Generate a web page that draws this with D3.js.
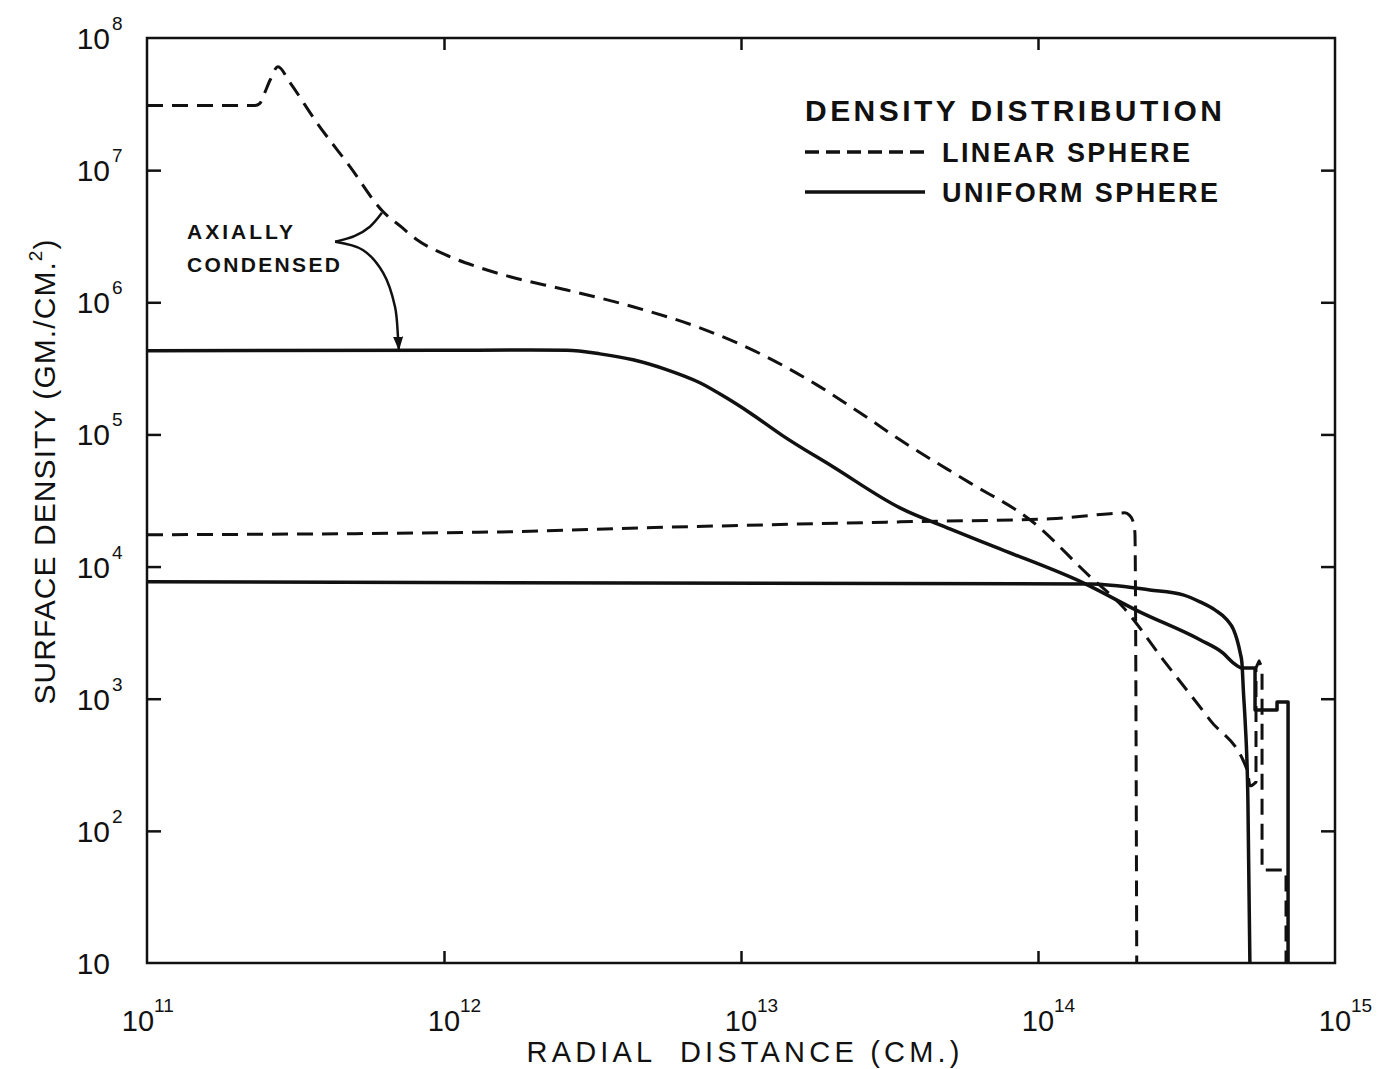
<!DOCTYPE html>
<html>
<head>
<meta charset="utf-8">
<script src="https://cdn.jsdelivr.net/npm/d3@7"></script>
<style>
  body { margin: 0; background: #fff; }
  svg { display: block; }
  text { font-family: "Liberation Sans", Arial, sans-serif; fill: #111; }
</style>
</head>
<body>
<div id="chart"></div>
<script>
// Curves: [radial distance (cm), surface density (g/cm^2)]
const linearCondensed = [
    [1.0e11, 3.08e7], [2.31e11, 3.08e7], [2.40e11, 3.2e7], [2.46e11, 3.6e7],
    [2.60e11, 4.83e7], [2.76e11, 6.07e7], [3.03e11, 4.59e7], [3.73e11, 2.29e7],
    [4.83e11, 1.06e7], [6.24e11, 4.84e6], [7.2e11, 3.7e6], [8.11e11, 2.97e6],
    [1.01e12, 2.29e6], [1.30e12, 1.85e6], [1.67e12, 1.56e6], [2.59e12, 1.24e6],
    [4.33e12, 9.25e5], [7.27e12, 6.41e5], [1.22e13, 3.86e5], [1.80e13, 2.37e5],
    [2.66e13, 1.34e5], [3.43e13, 9.1e4], [5.90e13, 4.30e4], [9.40e13, 2.26e4],
    [1.50e14, 8.36e3], [1.93e14, 4.96e3], [2.64e14, 1.97e3], [3.79e14, 692],
    [5.06e14, 289], [5.18e14, 219], [5.42e14, 234], [5.42e14, 1710],
    [5.55e14, 1930], [5.68e14, 1710], [5.68e14, 50.6], [6.79e14, 50.6],
    [6.84e14, 48], [6.84e14, 10]
];

const uniformCondensed = [
    [1e11, 4.30e5], [1e12, 4.33e5], [1.8e12, 4.36e5], [2.59e12, 4.33e5],
    [3.35e12, 4.07e5], [4.33e12, 3.67e5], [5.64e12, 3.08e5], [7.27e12, 2.46e5],
    [8.9e12, 1.90e5], [1.07e13, 1.46e5], [1.38e13, 9.8e4], [2.04e13, 5.69e4],
    [3.43e13, 2.78e4], [5.05e13, 1.93e4], [7.45e13, 1.36e4], [1.42e14, 7.53e3],
    [2.20e14, 4.54e3], [3.51e14, 2.79e3], [4.19e14, 2.22e3], [4.54e14, 1.87e3],
    [4.86e14, 1.71e3], [5.38e14, 1.71e3], [5.38e14, 822], [6.38e14, 822],
    [6.38e14, 946], [6.95e14, 946], [6.95e14, 10]
];

const linearUniform = [
    [1e11, 1.74e4], [1.55e12, 1.83e4], [4.57e12, 1.96e4], [3.43e13, 2.18e4],
    [1.10e14, 2.30e4], [1.75e14, 2.51e4], [1.96e14, 2.55e4], [2.03e14, 2.45e4],
    [2.09e14, 2.2e4], [2.12e14, 1.80e4], [2.15e14, 10]
];

const uniformUniform = [
    [1e11, 7.66e3], [1.50e14, 7.39e3], [2.38e14, 6.66e3], [3.08e14, 6.11e3],
    [3.51e14, 5.41e3], [3.94e14, 4.70e3], [4.33e14, 3.95e3], [4.55e14, 3.35e3],
    [4.68e14, 2.79e3], [4.80e14, 2.2e3], [4.86e14, 1.87e3], [4.92e14, 1.1e3],
    [4.98e14, 692], [5.09e14, 171], [5.17e14, 10]
];

// "Axially condensed" bracket and arrow, in data coordinates
const bracketUpper = [[4.30e11, 2.87e6], [5.01e11, 3.18e6], [5.63e11, 3.73e6], [6.18e11, 4.75e6]];
const bracketArrow = [[4.30e11, 2.87e6], [5.33e11, 2.49e6], [6.24e11, 1.67e6], [6.84e11, 9.25e5], [7.0e11, 5.48e5], [7.05e11, 4.3e5]];

// Axis ticks (decade exponents)
const xTickExps = [11, 12, 13, 14, 15];
const yTickExps = [1, 2, 3, 4, 5, 6, 7, 8];
const xInnerTicks = [1e12, 1e13, 1e14];
const yInnerTicks = [1e2, 1e3, 1e4, 1e5, 1e6, 1e7];

const legendItems = [
    { label: "LINEAR SPHERE", dashed: true, len: 248 },
    { label: "UNIFORM SPHERE", dashed: false, len: 276 }
];

// Set up the SVG
const width = 1397;
const height = 1069;
const plot = { left: 147, right: 1335, top: 38, bottom: 963 };

const svg = d3.select("#chart")
    .append("svg")
    .attr("width", width)
    .attr("height", height);

const x = d3.scaleLog().domain([1e11, 1e15]).range([plot.left, plot.right]);
const y = d3.scaleLog().domain([10, 1e8]).range([plot.bottom, plot.top]);

const ink = "#111";
const dash = "16,9";

// Frame
svg.append("rect")
    .attr("x", plot.left).attr("y", plot.top)
    .attr("width", plot.right - plot.left).attr("height", plot.bottom - plot.top)
    .attr("fill", "none").attr("stroke", ink).attr("stroke-width", 2.5);

// Inward ticks on all four sides
function tickAxis(axis, tx, ty) {
    const g = svg.append("g").attr("transform", `translate(${tx},${ty})`).call(axis);
    g.select(".domain").remove();
    g.selectAll("line").attr("stroke", ink).attr("stroke-width", 2.5);
}
tickAxis(d3.axisLeft(y).tickValues(yInnerTicks).tickSize(-14).tickFormat(""), plot.left, 0);
tickAxis(d3.axisRight(y).tickValues(yInnerTicks).tickSize(-14).tickFormat(""), plot.right, 0);
tickAxis(d3.axisBottom(x).tickValues(xInnerTicks).tickSize(-12).tickFormat(""), 0, plot.bottom);
tickAxis(d3.axisTop(x).tickValues(xInnerTicks).tickSize(-12).tickFormat(""), 0, plot.top);

// Y tick labels: 10 with exponent
yTickExps.forEach(e => {
    const yy = y(Math.pow(10, e));
    svg.append("text")
        .attr("x", 110).attr("y", yy + 11)
        .attr("text-anchor", "end")
        .attr("font-size", 30)
        .text("10");
    if (e > 1) {
        svg.append("text")
            .attr("x", 112).attr("y", yy - 8)
            .attr("font-size", 19)
            .text(e);
    }
});

// X tick labels
xTickExps.forEach((e, i) => {
    const xx = x(Math.pow(10, e)) + (i === 0 ? -9 : 0);
    svg.append("text")
        .attr("x", xx).attr("y", 1031)
        .attr("text-anchor", "middle")
        .attr("font-size", 29)
        .text("10");
    svg.append("text")
        .attr("x", xx + 16).attr("y", 1012)
        .attr("font-size", 19)
        .text(e);
});

// Axis titles
svg.append("text")
    .attr("x", 743).attr("y", 1062)
    .attr("text-anchor", "middle")
    .attr("font-size", 29)
    .attr("textLength", 433).attr("lengthAdjust", "spacing")
    .style("white-space", "pre")
    .text("RADIAL  DISTANCE (CM.)");

const yTitle = svg.append("text")
    .attr("transform", "translate(55,472) rotate(-90)")
    .attr("text-anchor", "middle")
    .attr("font-size", 30)
    .attr("textLength", 465).attr("lengthAdjust", "spacing");
yTitle.append("tspan").text("SURFACE DENSITY (GM./CM.");
yTitle.append("tspan").attr("font-size", 19).attr("dy", -13).text("2");
yTitle.append("tspan").attr("dy", 13).text(")");

// Curves: smooth where radius increases, straight through the step edges
const smoothLine = d3.line()
    .x(d => x(d[0]))
    .y(d => y(d[1]))
    .curve(d3.curveMonotoneX);
const stepLine = d3.line()
    .x(d => x(d[0]))
    .y(d => y(d[1]));

function curvePath(data) {
    let k = data.findIndex((d, i) => i > 0 && d[0] <= data[i - 1][0]);
    if (k < 0) return smoothLine(data);
    return smoothLine(data.slice(0, k)) + stepLine(data.slice(k - 1)).replace(/^M/, "L");
}

const series = [
    { data: linearCondensed, dashed: true },
    { data: uniformCondensed, dashed: false },
    { data: linearUniform, dashed: true },
    { data: uniformUniform, dashed: false }
];

svg.selectAll("path.curve")
    .data(series)
    .enter()
    .append("path")
    .attr("class", "curve")
    .attr("d", d => curvePath(d.data))
    .attr("fill", "none")
    .attr("stroke", ink)
    .attr("stroke-width", d => d.dashed ? 3 : 3.5)
    .attr("stroke-dasharray", d => d.dashed ? dash : null)
    .attr("stroke-linejoin", "round");

// Annotation
svg.append("defs").append("marker")
    .attr("id", "arrow")
    .attr("viewBox", "0 0 14 10")
    .attr("refX", 14).attr("refY", 5)
    .attr("markerWidth", 14).attr("markerHeight", 10)
    .attr("markerUnits", "userSpaceOnUse")
    .attr("orient", "auto")
    .append("path")
    .attr("d", "M0,0 L14,5 L0,10 Z")
    .attr("fill", ink);

const annLine = d3.line()
    .x(d => x(d[0]))
    .y(d => y(d[1]))
    .curve(d3.curveCatmullRom.alpha(0.5));

svg.append("path")
    .attr("d", annLine(bracketUpper))
    .attr("fill", "none").attr("stroke", ink).attr("stroke-width", 2.5);
svg.append("path")
    .attr("d", annLine(bracketArrow))
    .attr("fill", "none").attr("stroke", ink).attr("stroke-width", 2.5)
    .attr("marker-end", "url(#arrow)");

svg.append("text")
    .attr("x", 187).attr("y", 239)
    .attr("font-size", 21).attr("font-weight", "bold")
    .attr("textLength", 106).attr("lengthAdjust", "spacing")
    .text("AXIALLY");
svg.append("text")
    .attr("x", 187).attr("y", 272)
    .attr("font-size", 21).attr("font-weight", "bold")
    .attr("textLength", 153).attr("lengthAdjust", "spacing")
    .text("CONDENSED");

// Legend
const legend = svg.append("g").attr("transform", "translate(805,0)");
legend.append("text")
    .attr("x", 0).attr("y", 121)
    .attr("font-size", 30).attr("font-weight", "bold")
    .attr("textLength", 417).attr("lengthAdjust", "spacing")
    .text("DENSITY DISTRIBUTION");

legendItems.forEach((d, i) => {
    const ly = 152 + i * 40;
    legend.append("line")
        .attr("x1", 0).attr("x2", 120)
        .attr("y1", ly).attr("y2", ly)
        .attr("stroke", ink).attr("stroke-width", 3.5)
        .attr("stroke-dasharray", d.dashed ? "14,7" : null);
    legend.append("text")
        .attr("x", 137).attr("y", ly + 10)
        .attr("font-size", 27).attr("font-weight", "bold")
        .attr("textLength", d.len).attr("lengthAdjust", "spacing")
        .text(d.label);
});
</script>
</body>
</html>
